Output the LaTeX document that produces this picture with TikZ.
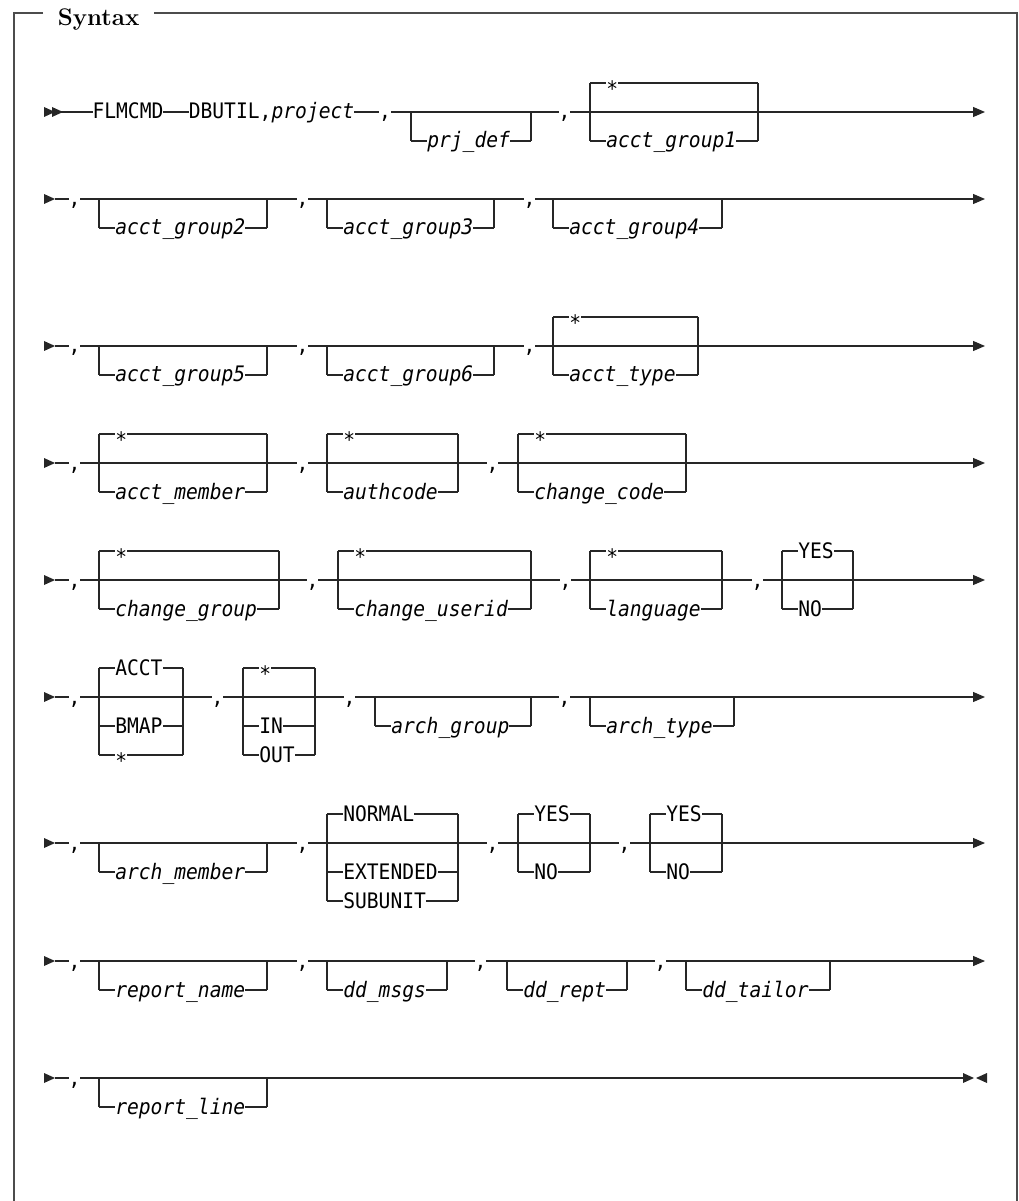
\documentclass[tikz,border=0pt]{standalone}
\usepackage{fontspec}
\setmonofont{DejaVu Sans Mono}[FakeStretch=0.92]
\usetikzlibrary{arrows.meta}
\newcommand{\var}[1]{\textit{#1}}
\newcommand{\dstar}{\raisebox{-5pt}{*}}
\newcommand{\headtri}[2]{\fill[black!85] (#1,#2-5) -- (#1+11,#2) -- (#1,#2+5) -- cycle;}
\newcommand{\commas}[3]{\foreach \cx [count=\k] in {#3}
  \node[word,anchor=base] (#1c\k) at (\cx,#2+7) {,};}
\newcommand{\railbox}[7]{%
  \draw[rail] (#2,#4#5) -- (#2,#4#6) (#3,#4#5) -- (#3,#4#6);
  \foreach \dy/\txt [count=\k] in {#7}{
    \draw[rail] (#2,#4\dy) -- (#3,#4\dy);
    \node[word,anchor=base west] (#1-\k) at (#2+16,#4\dy+7) {\txt};}}
\tikzset{
rail/.style={line width=0.9pt,black!85},
frame/.style={line width=1.1pt,black!70},
word/.style={font=\ttfamily\fontsize{16}{18}\selectfont,fill=white,inner sep=0pt,text height=12pt,text depth=4pt},
title/.style={font=\bfseries\fontsize{18}{20}\selectfont,inner xsep=11pt,inner ysep=0pt},
endarrow/.style={-{Triangle[length=9pt,width=7.5pt]}}
}
\begin{document}
\begin{tikzpicture}[x=0.75pt,y=-0.75pt]
\useasboundingbox (0,0) rectangle (1019,1201);
\node[title,anchor=base west] (ttl) at (43,26) {Syntax};
\coordinate (ftl) at (14,13);
\coordinate (ftr) at (1017,13);
\draw[frame] (ttl.west |- ftl) -- (ftl) -- (14,1201);
\draw[frame] (ttl.east |- ftr) -- (ftr) -- (1017,1201);
\foreach \i/\ry in {1/112,2/199,3/346,4/463,5/580,6/697,7/843,8/961,9/1078}{
  \coordinate (r\i s) at (55,\ry);
  \coordinate (r\i e) at (985,\ry);
  \headtri{44}{\ry}}
\foreach \i in {1,...,8} \draw[rail,endarrow] (r\i s) -- (r\i e);
\coordinate (fin) at (963,1078);
\draw[rail] (r9s) -- (fin);
\headtri{52}{112}
\headtri{963}{1078}
\fill[black!85] (987,1073) -- (976,1078) -- (987,1083) -- cycle;
% row 1
\node[word,anchor=base] (flm) at (128,119) {FLMCMD};
\node[word,anchor=base] (dbu) at (271.5,119) {DBUTIL,\var{project}};
\commas{a}{112}{385,564.5}
\railbox{prj}{411}{531}{112}{+0}{+29}{+29/\var{prj\_def}}
\railbox{ag1}{590}{758}{112}{-29}{+29}{-29/\dstar,+29/\var{acct\_group1}}
% row 2
\commas{b}{199}{74.5,302.5,529.5}
\railbox{ag2}{99}{267}{199}{+0}{+29}{+29/\var{acct\_group2}}
\railbox{ag3}{327}{494}{199}{+0}{+29}{+29/\var{acct\_group3}}
\railbox{ag4}{553}{722}{199}{+0}{+29}{+29/\var{acct\_group4}}
% row 3
\commas{c}{346}{74.5,302.5,529.5}
\railbox{ag5}{99}{267}{346}{+0}{+29}{+29/\var{acct\_group5}}
\railbox{ag6}{327}{494}{346}{+0}{+29}{+29/\var{acct\_group6}}
\railbox{aty}{553}{698}{346}{-29}{+29}{-29/\dstar,+29/\var{acct\_type}}
% row 4
\commas{d}{463}{74.5,302.5,492.5}
\railbox{amb}{99}{267}{463}{-29}{+29}{-29/\dstar,+29/\var{acct\_member}}
\railbox{auc}{327}{458}{463}{-29}{+29}{-29/\dstar,+29/\var{authcode}}
\railbox{chc}{518}{686}{463}{-29}{+29}{-29/\dstar,+29/\var{change\_code}}
% row 5
\commas{e}{580}{74.5,312.5,565.5,757.5}
\railbox{chg}{99}{279}{580}{-29}{+29}{-29/\dstar,+29/\var{change\_group}}
\railbox{chu}{338}{531}{580}{-29}{+29}{-29/\dstar,+29/\var{change\_userid}}
\railbox{lng}{590}{722}{580}{-29}{+29}{-29/\dstar,+29/\var{language}}
\railbox{yn1}{782}{853}{580}{-29}{+29}{-29/YES,+29/NO}
% row 6
\commas{f}{697}{74.5,217.5,349.5,564.5}
\railbox{src}{99}{183}{697}{-29}{+58}{-29/ACCT,+29/BMAP,+58/\dstar}
\railbox{dir}{243}{315}{697}{-29}{+58}{-29/\dstar,+29/IN,+58/OUT}
\railbox{arg}{375}{531}{697}{+0}{+29}{+29/\var{arch\_group}}
\railbox{art}{590}{734}{697}{+0}{+29}{+29/\var{arch\_type}}
% row 7
\commas{g}{843}{74.5,302.5,492.5,624.5}
\railbox{arm}{99}{267}{843}{+0}{+29}{+29/\var{arch\_member}}
\railbox{mode}{327}{458}{843}{-29}{+58}{-29/NORMAL,+29/EXTENDED,+58/SUBUNIT}
\railbox{yn2}{518}{590}{843}{-29}{+29}{-29/YES,+29/NO}
\railbox{yn3}{650}{722}{843}{-29}{+29}{-29/YES,+29/NO}
% row 8
\commas{h}{961}{74.5,302.5,480.5,660.5}
\railbox{rpn}{99}{267}{961}{+0}{+29}{+29/\var{report\_name}}
\railbox{ddm}{327}{447}{961}{+0}{+29}{+29/\var{dd\_msgs}}
\railbox{ddr}{507}{627}{961}{+0}{+29}{+29/\var{dd\_rept}}
\railbox{ddt}{686}{830}{961}{+0}{+29}{+29/\var{dd\_tailor}}
% row 9
\commas{k}{1078}{74.5}
\railbox{rpl}{99}{267}{1078}{+0}{+29}{+29/\var{report\_line}}
\end{tikzpicture}
\end{document}
